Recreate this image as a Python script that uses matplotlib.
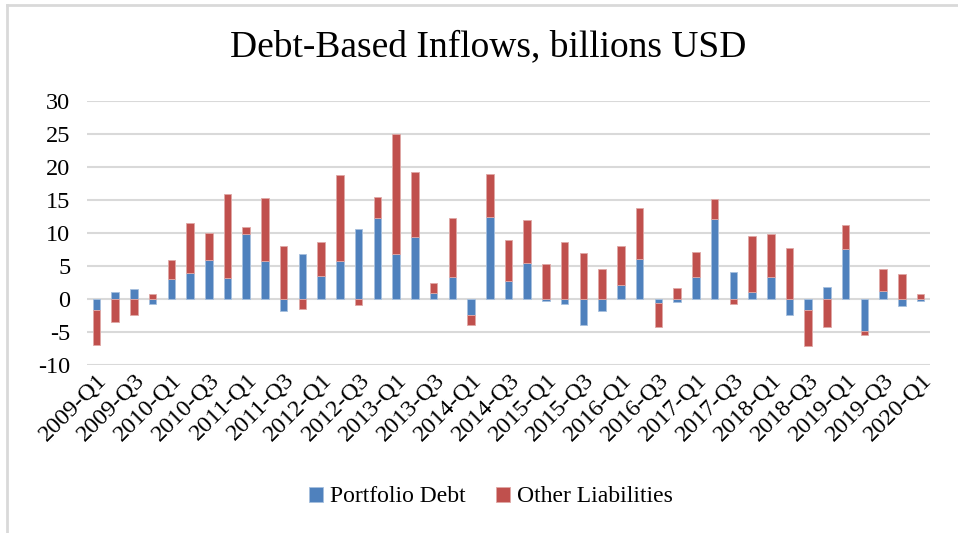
import matplotlib
matplotlib.use("Agg")
import matplotlib.pyplot as plt
from matplotlib.lines import Line2D
import numpy as np

plt.rcParams['font.family'] = ['Liberation Serif', 'DejaVu Serif']
plt.rcParams['axes.unicode_minus'] = False

quarters = [f"{y}-Q{q}" for y in range(2009, 2021) for q in range(1, 5)][:45]

portfolio_debt = [-1.7, 1.05, 1.45, -0.7, 3.0, 3.9, 5.9, 3.2, 9.85, 5.7, -1.8, 6.8,
                  3.5, 5.7, 10.65, 12.2, 6.8, 9.4, 0.85, 3.4, -2.4, 12.4, 2.8, 5.5,
                  -0.25, -0.8, -3.9, -1.85, 2.05, 6.1, -0.65, -0.45, 3.4, 12.05, 4.05, 1.0,
                  3.3, -2.4, -1.7, 1.8, 7.6, -4.9, 1.2, -1.0, -0.35]
other_liabilities = [-5.2, -3.5, -2.4, 0.75, 2.9, 7.55, 4.15, 12.7, 1.1, 9.65, 8.0, -1.55,
                     5.15, 13.1, -0.9, 3.2, 18.25, 9.9, 1.55, 8.9, -1.55, 6.6, 6.2, 6.5,
                     5.25, 8.65, 6.9, 4.5, 5.95, 7.7, -3.65, 1.65, 3.7, 3.1, -0.8, 8.6,
                     6.5, 7.7, -5.4, -4.25, 3.65, -0.5, 3.4, 3.75, 0.7]

blue = '#4F81BD'
red = '#C0504D'

fig = plt.figure(figsize=(9.58, 5.33), dpi=100)
ax = fig.add_axes([87/958, 1 - 365/533, (930-87)/958, (365-101)/533])

x = np.arange(len(quarters))
pd_arr = np.array(portfolio_debt)
ol_arr = np.array(other_liabilities)
pos_base = np.where(pd_arr > 0, pd_arr, 0)
neg_base = np.where(pd_arr < 0, pd_arr, 0)
ol_bottom = np.where(ol_arr >= 0, pos_base, neg_base)

w = 0.4
ax.bar(x, pd_arr, width=w, color=blue, edgecolor='#A7C0DE', linewidth=0.6,
       label='Portfolio Debt', zorder=3)
ax.bar(x, ol_arr, width=w, bottom=ol_bottom, color=red, edgecolor='#DFA8A6',
       linewidth=0.6, label='Other Liabilities', zorder=3)

ax.set_xlim(-0.5, len(quarters) - 0.5)
ax.set_ylim(-10, 30)
ax.set_yticks(range(-10, 31, 5))
ax.yaxis.grid(True, color='#D9D9D9', linewidth=1.5, zorder=0)
ax.set_axisbelow(True)
for s in ax.spines.values():
    s.set_visible(False)
ax.tick_params(axis='both', length=0, labelsize=17.5, colors='black')
ax.tick_params(axis='y', pad=12)
ax.tick_params(axis='x', pad=3)
ax.set_xticks(x[::2])
ax.set_xticklabels(quarters[::2], rotation=45, ha='right', rotation_mode='anchor')

fig.text(488/958, 1 - 47/533, 'Debt-Based Inflows, billions USD', ha='center',
         va='center', fontsize=27)

leg = fig.legend(loc='center', bbox_to_anchor=(491/958, 1 - 497/533), ncol=2,
                 frameon=False, fontsize=17, handlelength=0.6, handleheight=0.6,
                 handletextpad=0.3, columnspacing=1.25)

fig.add_artist(Line2D([7/958, 1], [1 - 5/533, 1 - 5/533], color='#D9D9D9', linewidth=2))
fig.add_artist(Line2D([7/958, 7/958], [0, 1 - 5/533], color='#D9D9D9', linewidth=2))

fig.savefig('out.png', dpi=100)
